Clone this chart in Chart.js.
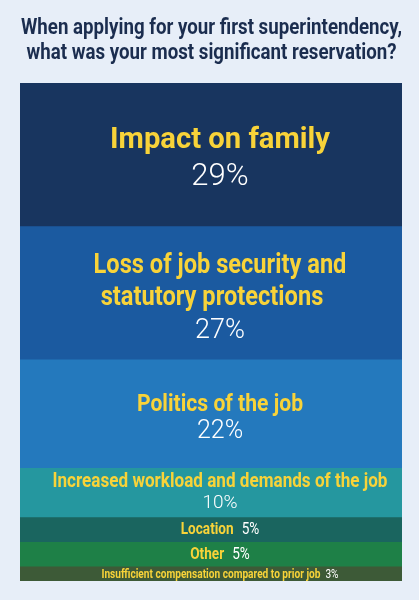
<!DOCTYPE html>
<html lang="en">
<head>
    <meta charset="UTF-8">
    <title>Most significant reservation</title>
    <style>
        html, body {
            margin: 0;
            padding: 0;
            background: #e7eef8;
        }
        #wrap {
            width: 419px;
            height: 600px;
        }
    </style>
    <script src="https://cdn.jsdelivr.net/npm/chart.js"></script>
</head>
<body>
    <div id="wrap">
        <canvas id="chart" width="419" height="600"></canvas>
    </div>

    <script>
        // data
        const titleLines = [
            'When applying for your first superintendency,',
            'what was your most significant reservation?'
        ];
        const categories = [
            'Impact on family',
            'Loss of job security and statutory protections',
            'Politics of the job',
            'Increased workload and demands of the job',
            'Location',
            'Other',
            'Insufficient compensation compared to prior job'
        ];
        const values = [29, 27, 22, 10, 5, 5, 3];

        // look of each segment: colour, font size, horizontal squeeze, line offsets from the segment middle
        const segColors = ['#18355f', '#1b5aa0', '#2479bd', '#25979f', '#1a655f', '#1e8047', '#3d5a37'];
        const labelStyle = [
            { lines: ['Impact on family'], size: 29.5, sx: 0.99, dy: [-14], pctSize: 31, pctDy: 23 },
            { lines: ['Loss of job security and', 'statutory protections'], dx: [0, -8], size: 27, sx: 0.875, dy: [-26, 6], pctSize: 27, pctDy: 39 },
            { lines: ['Politics of the job'], size: 24, sx: 0.88, dy: [-8], pctSize: 25, pctDy: 18 },
            { lines: ['Increased workload and demands of the job'], size: 20, sx: 0.855, dy: [-10], pctSize: 19, pctDy: 11 },
            { lines: ['Location'], size: 17, sx: 0.8, inline: true, gap: 8 },
            { lines: ['Other'], size: 17, sx: 0.8, inline: true, gap: 8 },
            { lines: ['Insufficient compensation compared to prior job'], size: 13.5, sx: 0.75, inline: true, gap: 5 }
        ];

        const FONT = 'Roboto, "DejaVu Sans", sans-serif';
        const YELLOW = '#f8d339';
        const TEXT_X = 220;

        // text squeezed horizontally to look like the condensed face of the original
        function squeezed(ctx, text, x, y, sx) {
            ctx.save();
            ctx.translate(x, y);
            ctx.scale(sx, 1);
            ctx.fillText(text, 0, 0);
            ctx.restore();
        }

        const titleAndLabels = {
            id: 'titleAndLabels',
            beforeDraw(chart) {
                const ctx = chart.ctx;
                ctx.save();
                ctx.textAlign = 'center';
                ctx.textBaseline = 'middle';
                ctx.fillStyle = '#1b2d4f';
                ctx.font = 'bold 22px ' + FONT;
                titleLines.forEach((t, i) => squeezed(ctx, t, 211.5, 28 + i * 25, 0.85));
                ctx.restore();
            },
            afterDatasetsDraw(chart) {
                const ctx = chart.ctx;
                ctx.save();
                ctx.textBaseline = 'middle';
                values.forEach((v, i) => {
                    const bar = chart.getDatasetMeta(i).data[0];
                    const mid = (bar.y + bar.base) / 2;
                    const st = labelStyle[i];
                    const pct = v + '%';
                    if (st.inline) {
                        ctx.font = 'bold ' + st.size + 'px ' + FONT;
                        const w1 = ctx.measureText(st.lines[0]).width * st.sx;
                        ctx.font = st.size + 'px ' + FONT;
                        const w2 = ctx.measureText(pct).width * st.sx;
                        const x0 = TEXT_X - (w1 + st.gap + w2) / 2;
                        ctx.textAlign = 'left';
                        ctx.font = 'bold ' + st.size + 'px ' + FONT;
                        ctx.fillStyle = YELLOW;
                        squeezed(ctx, st.lines[0], x0, mid + 1, st.sx);
                        ctx.font = st.size + 'px ' + FONT;
                        ctx.fillStyle = '#ffffff';
                        squeezed(ctx, pct, x0 + w1 + st.gap, mid + 1, st.sx);
                    } else {
                        ctx.textAlign = 'center';
                        ctx.font = 'bold ' + st.size + 'px ' + FONT;
                        ctx.fillStyle = YELLOW;
                        st.lines.forEach((l, j) => {
                            const dx = st.dx ? st.dx[j] : 0;
                            squeezed(ctx, l, TEXT_X + dx, mid + st.dy[j], st.sx);
                        });
                        ctx.font = '300 ' + st.pctSize + 'px ' + FONT;
                        ctx.fillStyle = '#ffffff';
                        ctx.fillText(pct, TEXT_X, mid + st.pctDy);
                    }
                });
                ctx.restore();
            }
        };

        new Chart(document.getElementById('chart'), {
            type: 'bar',
            data: {
                labels: [''],
                datasets: categories.map((c, i) => ({
                    label: c,
                    data: [values[i]],
                    backgroundColor: segColors[i],
                    borderWidth: 0,
                    categoryPercentage: 1,
                    barPercentage: 1
                }))
            },
            options: {
                responsive: false,
                animation: false,
                devicePixelRatio: 1,
                layout: { padding: { left: 20, right: 17, top: 83, bottom: 19 } },
                scales: {
                    x: { stacked: true, display: false },
                    y: { stacked: true, display: false, reverse: true, min: 0, max: 101 }
                },
                plugins: {
                    legend: { display: false },
                    tooltip: { enabled: false },
                    title: { display: false }
                }
            },
            plugins: [titleAndLabels]
        });
    </script>
</body>
</html>
